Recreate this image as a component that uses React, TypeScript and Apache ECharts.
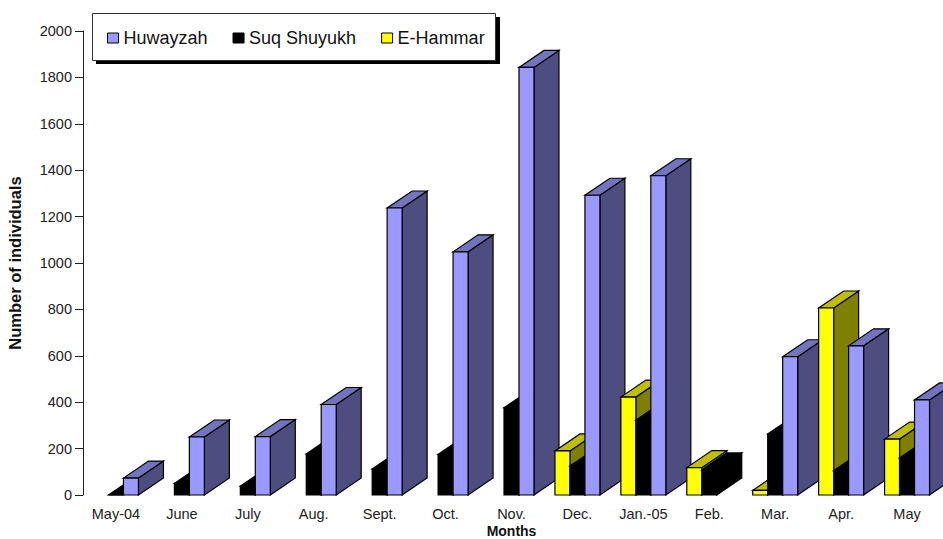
import React, { useEffect, useRef } from "react";
import * as echarts from "echarts";

const FONT = "'Liberation Sans', Arial, sans-serif";

const months = ["May-04", "June", "July", "Aug.", "Sept.", "Oct.", "Nov.", "Dec.", "Jan.-05", "Feb.", "Mar.", "Apr.", "May"];
const huwayzah = [73, 250, 252, 390, 1237, 1048, 1843, 1292, 1376, null, 596, 643, 410];
const suqShuyukh = [0, 50, 38, 177, 112, 175, 376, 125, 323, 108, 263, 105, 160];
const eHammar = [null, null, null, null, null, null, null, 190, 422, 118, 20, 806, 241];

const BAR_SHARE = 15 / 66;
const DEPTH_X = 25;
const DEPTH_Y = 17;

// One extruded column: front face, lit top and shaded side, staggered within its month.
function columnRenderer(slot: number, front: string, top: string, side: string) {
  return (params: any, api: any) => {
    const value = api.value(1);
    if (value === null || value === undefined || Number.isNaN(value)) return null;
    const index = api.value(0);
    const band = api.size([1, 0])[0];
    const w = band * BAR_SHARE;
    const [cx, y] = api.coord([index, value]);
    const [, y0] = api.coord([index, 0]);
    const x0 = cx + (slot - 1.5) * w;
    const x1 = x0 + w;
    const edge = { stroke: "#000", lineWidth: 1.2, lineJoin: "miter" };
    return {
      type: "group",
      children: [
        {
          type: "polygon",
          z2: index * 10 + slot * 3,
          shape: { points: [[x1, y0], [x1 + DEPTH_X, y0 - DEPTH_Y], [x1 + DEPTH_X, y - DEPTH_Y], [x1, y]] },
          style: { fill: side, ...edge },
        },
        {
          type: "polygon",
          z2: index * 10 + slot * 3 + 1,
          shape: { points: [[x0, y], [x1, y], [x1 + DEPTH_X, y - DEPTH_Y], [x0 + DEPTH_X, y - DEPTH_Y]] },
          style: { fill: top, ...edge },
        },
        {
          type: "polygon",
          z2: index * 10 + slot * 3 + 2,
          shape: { points: [[x0, y0], [x1, y0], [x1, y], [x0, y]] },
          style: { fill: front, ...edge },
        },
      ],
    };
  };
}

function columnSeries(name: string, values: (number | null)[], slot: number, front: string, top: string, side: string) {
  return {
    type: "custom",
    name,
    silent: true,
    clip: false,
    itemStyle: { color: front },
    encode: { x: 0, y: 1 },
    data: values.map((v, i) => [i, v]),
    renderItem: columnRenderer(slot, front, top, side),
  };
}

export default function App() {
  const ref = useRef<HTMLDivElement>(null);

  useEffect(() => {
    document.body.style.margin = "0";
    document.body.style.overflow = "hidden";
    const chart = echarts.init(ref.current!, undefined, { renderer: "svg" });
    const swatch = (name: string, color: string) => ({
      name,
      icon: "rect",
      itemStyle: { color, borderColor: "#000", borderWidth: 1 },
    });
    chart.setOption({
      animation: false,
      backgroundColor: "#fff",
      grid: { left: 83, top: 31, width: 857, height: 464, outerBoundsMode: "none" },
      xAxis: {
        type: "category",
        data: months,
        name: "Months",
        nameLocation: "middle",
        nameGap: 29,
        nameMoveOverlap: false,
        nameTextStyle: { fontFamily: FONT, fontWeight: "bold", fontSize: 14, color: "#111" },
        axisLine: { show: false },
        axisTick: { show: false },
        axisLabel: { fontFamily: FONT, fontSize: 14.5, color: "#222", margin: 11, interval: 0 },
      },
      yAxis: {
        type: "value",
        min: 0,
        max: 2000,
        interval: 200,
        name: "Number of individuals",
        nameLocation: "middle",
        nameGap: 60,
        nameMoveOverlap: false,
        nameTextStyle: { fontFamily: FONT, fontWeight: "bold", fontSize: 16.5, color: "#111" },
        splitLine: { show: false },
        axisLine: { show: true, lineStyle: { color: "#222", width: 1 } },
        axisTick: { show: true, length: 8, lineStyle: { color: "#222", width: 1 } },
        axisLabel: {
          fontFamily: FONT,
          fontSize: 14.5,
          color: "#222",
          margin: 11,
          formatter: (v: number) => String(v),
        },
      },
      legend: {
        left: 107,
        top: 29,
        padding: 0,
        z: 6,
        selectedMode: false,
        itemWidth: 11,
        itemHeight: 10,
        itemGap: 25,
        textStyle: { fontFamily: FONT, fontSize: 18, color: "#111" },
        data: [swatch("Huwayzah", "#9999FF"), swatch("Suq Shuyukh", "#000000"), swatch("E-Hammar", "#FFFF00")],
      },
      graphic: [
        { type: "rect", z: 4, silent: true, shape: { x: 96, y: 17, width: 404, height: 47 }, style: { fill: "#000" } },
        {
          type: "rect",
          z: 5,
          silent: true,
          shape: { x: 92.5, y: 13.5, width: 403, height: 47 },
          style: { fill: "#fff", stroke: "#333", lineWidth: 1 },
        },
      ],
      series: [
        columnSeries("E-Hammar", eHammar, 0, "#FFFF00", "#BFBF00", "#808000"),
        columnSeries("Suq Shuyukh", suqShuyukh, 1, "#000000", "#000000", "#000000"),
        columnSeries("Huwayzah", huwayzah, 2, "#9999FF", "#7373BF", "#4D4D80"),
      ],
    });
    return () => chart.dispose();
  }, []);

  return <div ref={ref} style={{ width: 943, height: 539 }} />;
}
